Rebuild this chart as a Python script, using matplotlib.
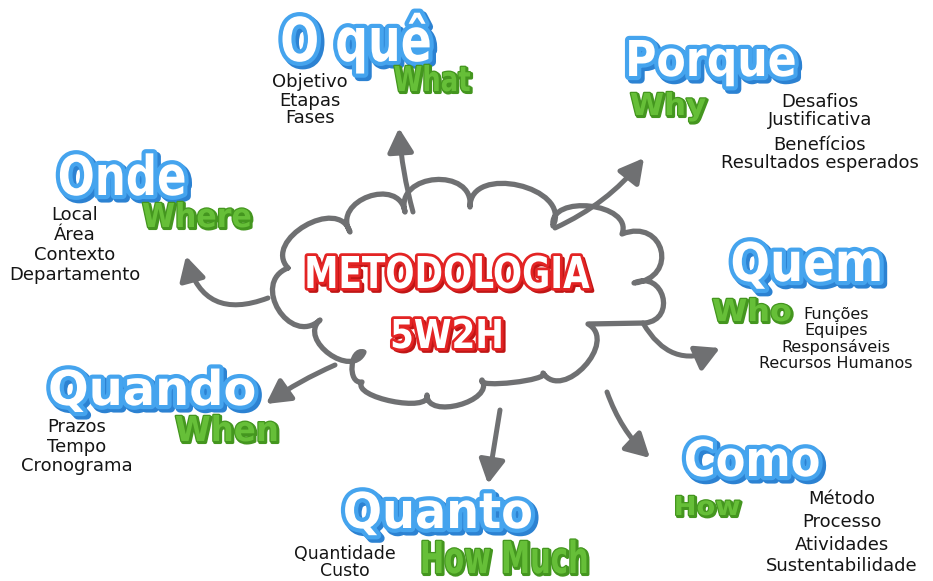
import matplotlib
matplotlib.use("Agg")
import matplotlib.pyplot as plt
from matplotlib import patheffects as pe
from matplotlib import colors as mcolors
from matplotlib.path import Path
from matplotlib.patches import PathPatch, FancyArrowPatch
from matplotlib.transforms import Affine2D
import numpy as np

# ---------------- content ----------------
center_title = "METODOLOGIA"
center_sub = "5W2H"
questions_pt = ["O quê", "Porque", "Onde", "Quem", "Quando", "Quanto", "Como"]
questions_en = ["What", "Why", "Where", "Who", "When", "How Much", "How"]
items_oque = ["Objetivo", "Etapas", "Fases"]
items_porque = ["Desafios", "Justificativa", "Benefícios", "Resultados esperados"]
items_onde = ["Local", "Área", "Contexto", "Departamento"]
items_quem = ["Funções", "Equipes", "Responsáveis", "Recursos Humanos"]
items_quando = ["Prazos", "Tempo", "Cronograma"]
items_quanto = ["Quantidade", "Custo"]
items_como = ["Método", "Processo", "Atividades", "Sustentabilidade"]
item_lists = [items_oque, items_porque, items_onde, items_quem,
              items_quando, items_quanto, items_como]

# ---------------- layout (pixel coordinates, y downwards) ----------------
W, H = 933, 581
# (center x, baseline y, width, top y)
pt_layout = [(356, 61, 152, 17), (711, 76, 172, 40), (122, 195, 129, 155),
             (807, 281, 153, 242), (152, 405, 209, 370), (438, 528, 191, 492),
             (752, 476, 137, 440)]
en_layout = [(432, 91, 77, 66), (668, 115, 76, 93), (197, 227, 110, 203),
             (752, 321, 80, 299), (227, 441, 104, 416), (504, 573, 169, 541),
             (707, 515, 67, 496)]
# items: center x, font size, list of y centers
item_layout = [(310, 13, [82, 101, 118]),
               (820, 13, [102, 120, 145, 163]),
               (75, 13, [215, 235, 255, 275]),
               (836, 11.5, [314, 330, 347, 364]),
               (77, 13, [427, 447, 466]),
               (345, 12.5, [554, 571]),
               (842, 13, [499, 522, 545, 566])]
# arrows: start, end, curvature
arrows = [((413, 212), (399, 128), -0.05),
          ((555, 228), (644, 158), 0.12),
          ((268, 298), (186, 256), -0.55),
          ((643, 323), (720, 348), 0.45),
          ((335, 365), (266, 404), 0.05),
          ((500, 410), (488, 484), 0.0),
          ((607, 392), (650, 458), 0.12)]
# cloud cusps and lobe heights
cusps = [(288, 268), (350, 232), (405, 212), (470, 207), (553, 226), (622, 234),
         (634, 283), (645, 323), (588, 324), (543, 373), (482, 380), (427, 395),
         (362, 382), (364, 352), (320, 320)]
lobes = [28, 27, 30, 32, 24, 34, 24, 0, 26, 6, 18, 13, 11, 22, 30]
cloud_center = (455, 290)

BLUE = "#45a4ee"
BLUE_D = "#2c82d2"
GREEN = "#66bf38"
GREEN_D = "#44961f"
RED = "#e32424"
RED_D = "#c01515"
GRAY = "#6f7072"

fig = plt.figure(figsize=(W / 100, H / 100), dpi=100)
ax = fig.add_axes([0, 0, 1, 1])
ax.set_xlim(0, W)
ax.set_ylim(H, 0)
ax.axis("off")
fig.patch.set_facecolor("white")
renderer = fig.canvas.get_renderer()


class Fx(pe.AbstractPathEffect):
    """Stroke/fill effect that also stretches glyphs vertically from the baseline."""

    def __init__(self, sy=1.0, offset=(0, 0), lw=0.0, color=None, fill=None):
        super().__init__(offset)
        self.sy = sy
        self.lw = lw
        self.color = color
        self.fill = fill

    def draw_path(self, renderer, gc, tpath, affine, rgbFace):
        gc0 = renderer.new_gc()
        gc0.copy_properties(gc)
        gc0.set_linewidth(self.lw)
        if self.color is not None:
            gc0.set_foreground(self.color)
        gc0.set_joinstyle("round")
        aff = Affine2D().scale(1, self.sy) + affine + self._offset_transform(renderer)
        face = mcolors.to_rgba(self.fill) if self.fill is not None else None
        renderer.draw_path(gc0, tpath, aff, face)
        gc0.restore()


def fancy_text(s, cx, base, width, top, style):
    t = ax.text(cx, base, s, ha="center", va="baseline", fontsize=10,
                family="DejaVu Sans", fontweight="bold", color="white", zorder=5)
    w = t.get_window_extent(renderer).width
    size = 10 * width / w
    t.set_fontsize(size)
    cap = 0.729 * size * 100 / 72
    sy = (base - top) / cap
    if style == "blue":
        fx = [Fx(sy, (2.2, -2.2), 6.5, BLUE_D, BLUE_D),
              Fx(sy, (0, 0), 6.0, BLUE, None),
              Fx(sy, (0, 0), 0.0, None, "white")]
    elif style == "green":
        fx = [Fx(sy, (1.0, -1.0), 2.4, GREEN_D, GREEN_D),
              Fx(sy, (0, 0), 1.8, GREEN_D, GREEN),
              Fx(sy, (0, 0), 0.0, None, GREEN)]
    else:
        fx = [Fx(sy, (2.0, -2.0), 3.0, RED_D, RED_D),
              Fx(sy, (0, 0), 4.0, RED, None),
              Fx(sy, (0, 0), 0.0, None, "white")]
    t.set_path_effects(fx)
    return t


# ---------------- cloud ----------------
verts, codes = [], []
n = len(cusps)
for i in range(n):
    p0 = np.array(cusps[i], float)
    p1 = np.array(cusps[(i + 1) % n], float)
    d = p1 - p0
    nrm = np.array([-d[1], d[0]]) / np.hypot(*d)
    mid = (p0 + p1) / 2
    if np.dot(nrm, mid - np.array(cloud_center)) < 0:
        nrm = -nrm
    k = lobes[i] / 0.75
    if i == 0:
        verts.append(p0)
        codes.append(Path.MOVETO)
    verts += [p0 + nrm * k - d * 0.12, p1 + nrm * k + d * 0.12, p1]
    codes += [Path.CURVE4] * 3
cloud = PathPatch(Path(verts, codes), fill=True, fc="white", ec=GRAY, lw=3.8,
                  joinstyle="round", capstyle="round", zorder=2)
ax.add_patch(cloud)

# ---------------- arrows ----------------
for (a, b, rad) in arrows:
    arr = FancyArrowPatch(a, b, connectionstyle=f"arc3,rad={rad}",
                          arrowstyle="-|>,head_length=1.1,head_width=0.6",
                          mutation_scale=13, lw=3.6, color=GRAY,
                          shrinkA=0, shrinkB=0, capstyle="round",
                          joinstyle="round", zorder=3)
    ax.add_patch(arr)

# ---------------- titles ----------------
for s, (cx, base, w, top) in zip(questions_pt, pt_layout):
    fancy_text(s, cx, base, w, top, "blue")
for s, (cx, base, w, top) in zip(questions_en, en_layout):
    fancy_text(s, cx, base, w, top, "green")
fancy_text(center_title, 447, 288, 286, 256, "red")
fancy_text(center_sub, 447, 348, 114, 319, "red")

# ---------------- items ----------------
for items, (cx, fs, ys) in zip(item_lists, item_layout):
    for s, y in zip(items, ys):
        ax.text(cx, y, s, ha="center", va="center", fontsize=fs,
                family="DejaVu Sans", color="#151515", zorder=6)

fig.savefig("out.png", dpi=100, facecolor="white")
